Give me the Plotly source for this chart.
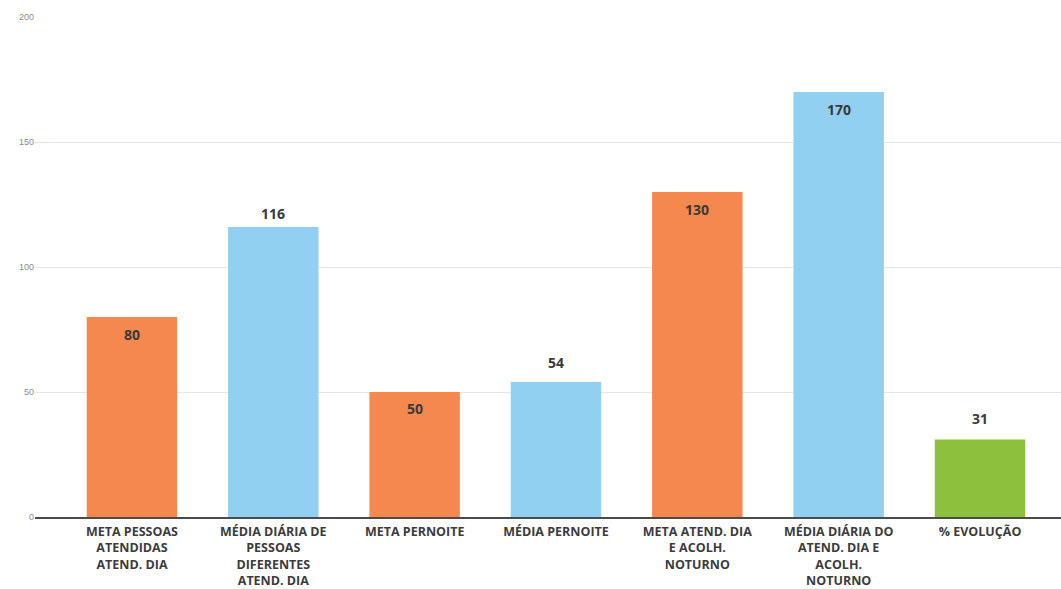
import plotly.graph_objects as go

categories = [
    "META PESSOAS<br>ATENDIDAS<br>ATEND. DIA",
    "MÉDIA DIÁRIA DE<br>PESSOAS<br>DIFERENTES<br>ATEND. DIA",
    "META PERNOITE",
    "MÉDIA PERNOITE",
    "META ATEND. DIA<br>E ACOLH.<br>NOTURNO",
    "MÉDIA DIÁRIA DO<br>ATEND. DIA E<br>ACOLH.<br>NOTURNO",
    "% EVOLUÇÃO",
]
values = [80, 116, 50, 54, 130, 170, 31]
bar_colors = ["#F5884F", "#92D0F2", "#F5884F", "#92D0F2", "#F5884F", "#92D0F2", "#8DC13D"]

# vertical offset (px) of each value label relative to the bar top
label_shift = [-17, 14, -16, 20, -17, -17, 21]

x_idx = list(range(len(categories)))

fig = go.Figure()
fig.add_trace(go.Bar(
    x=x_idx,
    y=values,
    width=0.64,
    marker=dict(color=bar_colors, line=dict(width=0)),
    hoverinfo="skip",
))

for xi, v, s in zip(x_idx, values, label_shift):
    fig.add_annotation(
        x=xi, y=v, text=f"<b>{v}</b>", showarrow=False,
        yshift=s, xanchor="center", yanchor="middle",
        font=dict(family="Open Sans, Arial, sans-serif", size=14, color="#3a3a3a"),
    )

fig.update_layout(
    width=1061, height=589,
    margin=dict(l=35, r=0, t=17, b=72),
    paper_bgcolor="white", plot_bgcolor="white",
    showlegend=False,
    bargap=0.36,
    xaxis=dict(
        range=[-0.686, 6.573],
        tickmode="array", tickvals=x_idx,
        ticktext=[f"<b>{c}</b>" for c in categories],
        tickfont=dict(family="Open Sans, Arial, sans-serif", size=12.5, color="#3c3c3c"),
        showgrid=False, zeroline=False,
        showline=True, linecolor="#4a4a4a", linewidth=2,
        ticks="", tickangle=0, ticklabelstandoff=2,
        automargin=False,
    ),
    yaxis=dict(
        range=[0, 200], tickvals=[0, 50, 100, 150, 200],
        tickfont=dict(family="Liberation Sans, Arial, sans-serif", size=9, color="#8a8a8a"),
        showgrid=True, gridcolor="#e6e6e6", gridwidth=1,
        zeroline=False, showline=False, ticks="",
        automargin=False,
    ),
)

fig.write_html("out.html")
